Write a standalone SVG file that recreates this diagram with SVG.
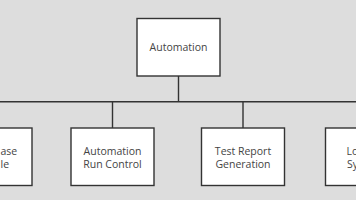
<svg xmlns="http://www.w3.org/2000/svg" width="356" height="200" viewBox="0 0 356 200">
<style>
.box{fill:#fff;stroke:#333;stroke-width:1.4}
.ln{stroke:#333;stroke-width:1.4;fill:none}
text{font-family:"Open Sans","Noto Sans",sans-serif;font-size:10.5px;fill:#444}
.c{text-anchor:middle}
</style>
<rect width="356" height="200" fill="#dddddd"/>
<g id="connectors">
<path class="ln" d="M178.5 76V101.8M0 101.8H356M112.5 101.8V128M243 101.8V128"/>
</g>
<g id="automation">
<rect class="box" x="137" y="18.5" width="83" height="57.5"/>
<text class="c" x="178.5" y="51">Automation</text>
</g>
<g id="test-case-module">
<rect class="box" x="-51" y="128" width="83" height="57.5"/>
<text x="0.5" y="155">ase</text>
<text x="0.5" y="167.5">le</text>
</g>
<g id="run-control">
<rect class="box" x="71" y="128" width="83" height="57.5"/>
<text class="c" x="112.5" y="155">Automation</text>
<text class="c" x="112.5" y="167.5">Run Control</text>
</g>
<g id="report-generation">
<rect class="box" x="201.5" y="128" width="83" height="57.5"/>
<text class="c" x="243" y="155">Test Report</text>
<text class="c" x="243" y="167.5">Generation</text>
</g>
<g id="logging-system">
<rect class="box" x="325.5" y="128" width="83" height="57.5"/>
<text x="346.5" y="155">Lo</text>
<text x="347" y="167.5">Sy</text>
</g>
</svg>
